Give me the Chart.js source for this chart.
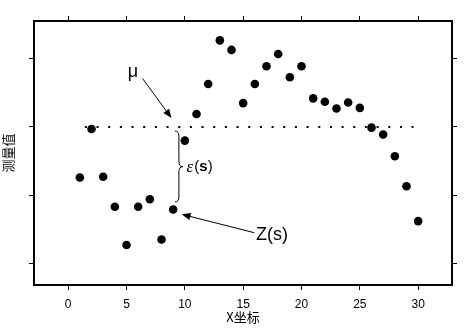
<!DOCTYPE html>
<html>
<head>
<meta charset="utf-8">
<script src="https://cdn.jsdelivr.net/npm/chart.js@4"></script>
<style>
html,body{margin:0;padding:0;background:#fff;}
#wrap{width:470px;height:331px;}
</style>
</head>
<body>
<div id="wrap"><canvas id="chart" width="470" height="331"></canvas></div>
<script>
// data (y in arbitrary units, axis has no labels)
const xVals = [1,2,3,4,5,6,7,8,9,10,11,12,13,14,15,16,17,18,19,20,21,22,23,24,25,26,27,28,29,30];
const yVals = [2.26,2.97,2.27,1.83,1.27,1.83,1.94,1.35,1.79,2.80,3.19,3.63,4.27,4.13,3.35,3.63,3.89,4.07,3.73,3.89,3.42,3.37,3.27,3.36,3.28,2.99,2.89,2.57,2.13,1.62];
const xTicks = [0,5,10,15,20,25,30];
const yTicks = [1,2,3,4];
const meanY = 3.0;
const meanFrom = 1.43, meanTo = 29.6;

// annotation anchors, in data units
const muText = [5.1, 3.73];
const muArrow = [6.38, 3.71, 8.86, 3.13];
const zText = [16.1, 1.41];
const zArrow = [15.95, 1.45, 9.72, 1.72];
const epsText = [10.15, 2.418];
const brace = {xEnd: 9.15, xSpine: 9.49, xTip: 9.83, yTop: 2.941, yMid: 2.418, yBot: 1.900};

const FONT = '"Liberation Sans", Arial, sans-serif';

function arrow(ctx, x1, y1, x2, y2) {
  const a = Math.atan2(y2 - y1, x2 - x1), L = 9, W = 3.5;
  const c = Math.cos(a), s = Math.sin(a);
  ctx.beginPath();
  ctx.moveTo(x1, y1);
  ctx.lineTo(x2 - L * c * 0.6, y2 - L * s * 0.6);
  ctx.stroke();
  ctx.beginPath();
  ctx.moveTo(x2, y2);
  ctx.lineTo(x2 - L * c + W * s, y2 - L * s - W * c);
  ctx.lineTo(x2 - L * c - W * s, y2 - L * s + W * c);
  ctx.closePath();
  ctx.fill();
}

const notes = {
  id: 'notes',
  afterDatasetsDraw(chart) {
    const ctx = chart.ctx, x = chart.scales.x, y = chart.scales.y;
    const px = v => x.getPixelForValue(v), py = v => y.getPixelForValue(v);
    ctx.save();
    ctx.strokeStyle = '#000';
    ctx.fillStyle = '#000';
    ctx.lineWidth = 1;

    // mu
    ctx.font = '18px ' + FONT;
    ctx.textBaseline = 'alphabetic';
    ctx.fillText('\u03bc', px(muText[0]), py(muText[1]));
    arrow(ctx, px(muArrow[0]), py(muArrow[1]), px(muArrow[2]), py(muArrow[3]));

    // Z(s)
    ctx.textBaseline = 'middle';
    ctx.fillText('Z(s)', px(zText[0]), py(zText[1]));
    arrow(ctx, px(zArrow[0]), py(zArrow[1]), px(zArrow[2]), py(zArrow[3]));

    // brace
    const xe = px(brace.xEnd), xs = px(brace.xSpine), xt = px(brace.xTip);
    const yt = py(brace.yTop), ym = py(brace.yMid), yb = py(brace.yBot);
    const r = 5;
    ctx.beginPath();
    ctx.moveTo(xe, yt);
    ctx.quadraticCurveTo(xs, yt, xs, yt + r);
    ctx.lineTo(xs, ym - r);
    ctx.quadraticCurveTo(xs, ym, xt, ym);
    ctx.quadraticCurveTo(xs, ym, xs, ym + r);
    ctx.lineTo(xs, yb - r);
    ctx.quadraticCurveTo(xs, yb, xe, yb);
    ctx.stroke();

    // eps(s)
    let tx = px(epsText[0]);
    const ty = py(epsText[1]);
    ctx.font = 'italic 17px "Liberation Serif", serif';
    ctx.fillText('\u03b5', tx, ty + 1);
    tx += ctx.measureText('\u03b5').width + 1;
    ctx.font = '15px ' + FONT;
    ctx.fillText('(', tx, ty);
    tx += ctx.measureText('(').width;
    ctx.font = 'bold 15px ' + FONT;
    ctx.fillText('s', tx, ty);
    tx += ctx.measureText('s').width;
    ctx.font = '15px ' + FONT;
    ctx.fillText(')', tx, ty);
    ctx.restore();
  }
};

const setX = s => { s.ticks = xTicks.map(v => ({value: v})); };
const setY = s => { s.ticks = yTicks.map(v => ({value: v})); };
const gridOpts = {drawOnChartArea: false, tickLength: 5, color: '#000', lineWidth: 1};
const borderOpts = {color: '#000', width: 2};

new Chart(document.getElementById('chart'), {
  type: 'scatter',
  data: {
    datasets: [
      {
        label: 'points',
        data: xVals.map((v, i) => ({x: v, y: yVals[i]})),
        backgroundColor: '#000',
        borderWidth: 0,
        pointRadius: 4.3
      },
      {
        label: 'mean',
        type: 'line',
        data: [{x: meanFrom, y: meanY}, {x: meanTo, y: meanY}],
        borderColor: '#000',
        borderWidth: 2,
        borderDash: [2, 9.67],
        pointRadius: 0,
        fill: false
      }
    ]
  },
  options: {
    responsive: false,
    animation: false,
    events: [],
    layout: {padding: 0},
    plugins: {legend: {display: false}, tooltip: {enabled: false}},
    scales: {
      x: {
        type: 'linear', position: 'bottom', min: -2.93, max: 32.9,
        afterBuildTicks: setX,
        afterFit: s => { s.height = 46; },
        ticks: {font: {family: FONT, size: 12}, color: '#000', padding: 7, maxRotation: 0, autoSkip: false},
        grid: gridOpts, border: borderOpts,
        title: {display: true, text: 'X坐标', color: '#000', font: {family: '"Noto Sans CJK SC", sans-serif', size: 13}, padding: {top: 0, bottom: 6}}
      },
      x2: {
        type: 'linear', position: 'top', min: -2.93, max: 32.9,
        afterBuildTicks: setX,
        afterFit: s => { s.height = 21; },
        ticks: {display: false},
        grid: gridOpts, border: borderOpts
      },
      y: {
        type: 'linear', position: 'left', min: 0.683, max: 4.554,
        afterBuildTicks: setY,
        afterFit: s => { s.width = 34; },
        ticks: {display: false},
        grid: gridOpts, border: borderOpts,
        title: {display: true, text: '测量值', color: '#000', font: {family: '"Noto Sans CJK SC", sans-serif', size: 13}, padding: {top: 0, bottom: 0}}
      },
      y2: {
        type: 'linear', position: 'right', min: 0.683, max: 4.554,
        afterBuildTicks: setY,
        afterFit: s => { s.width = 18; },
        ticks: {display: false},
        grid: gridOpts, border: borderOpts
      }
    }
  },
  plugins: [notes]
});
</script>
</body>
</html>
